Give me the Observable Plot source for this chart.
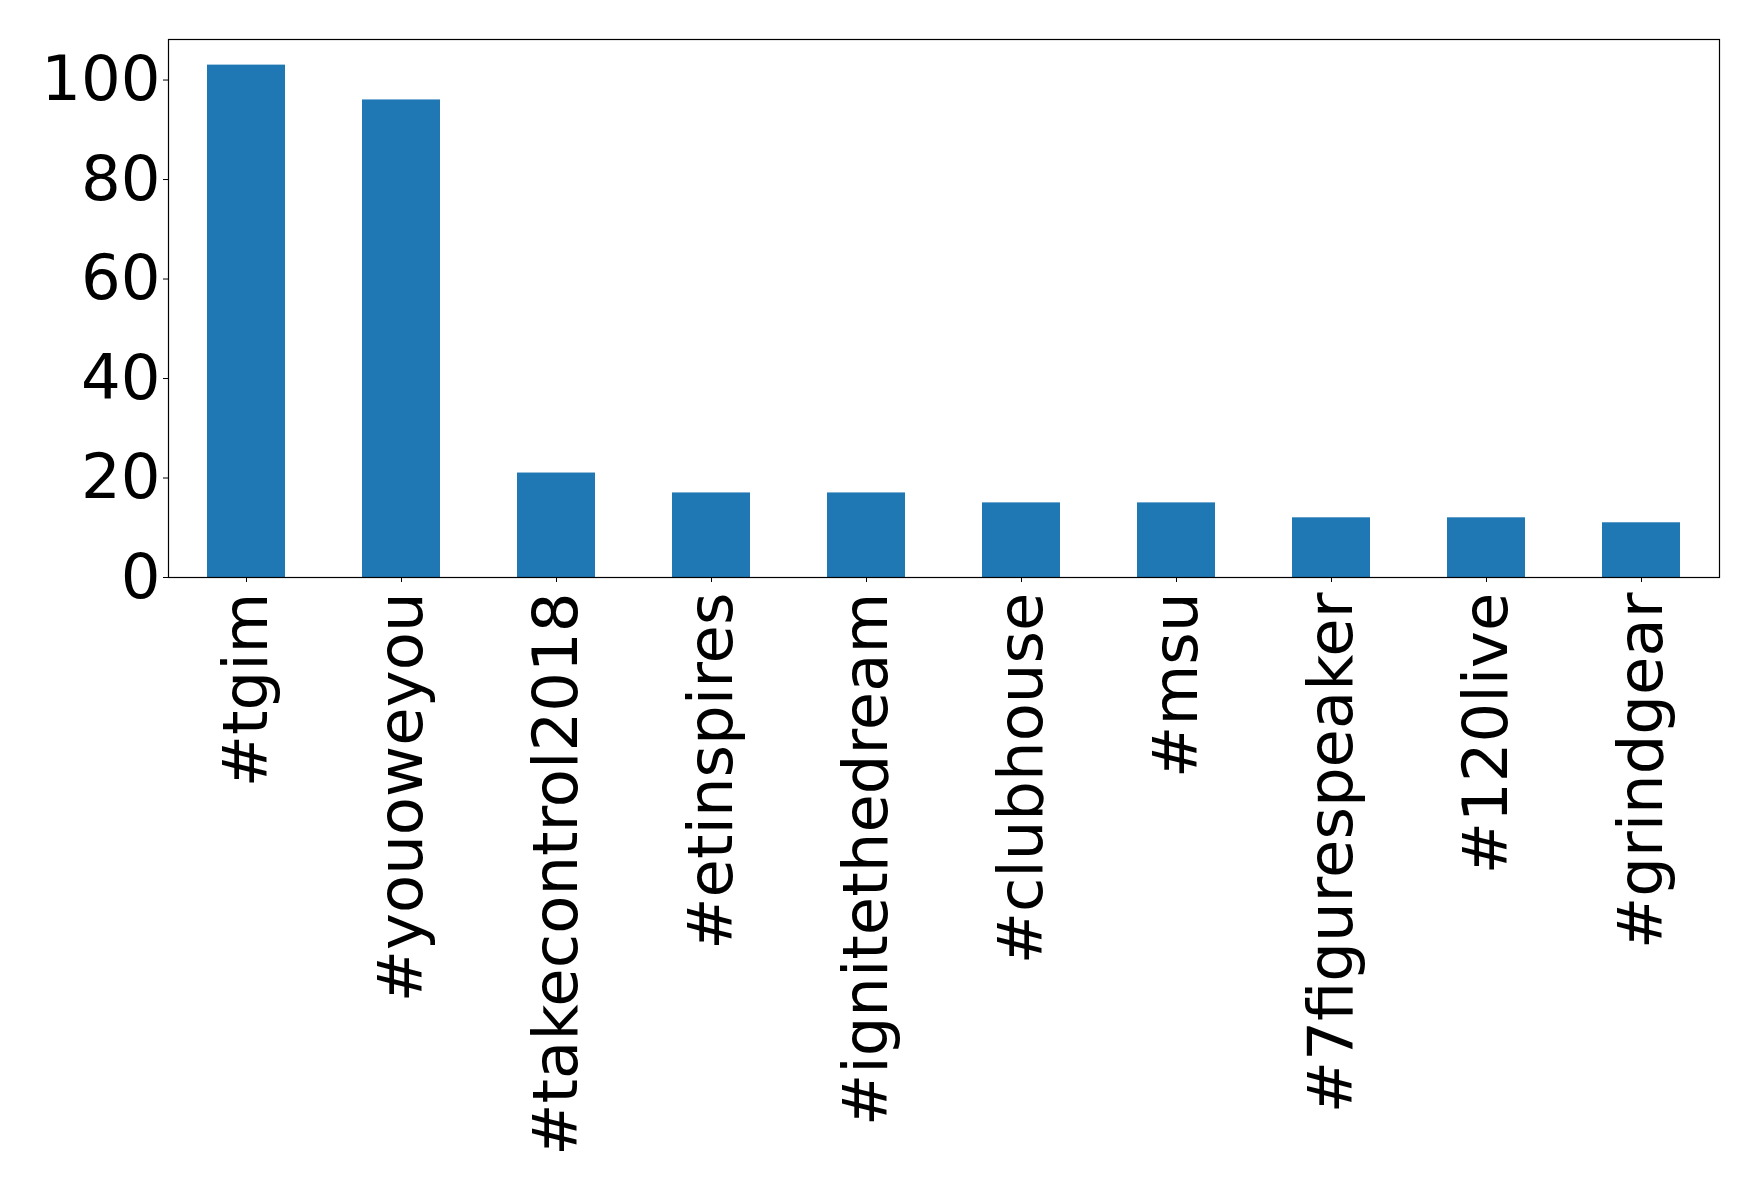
<!DOCTYPE html>
<html>
<head>
<meta charset="utf-8">
<script src="https://cdn.jsdelivr.net/npm/d3@7"></script>
<script src="https://cdn.jsdelivr.net/npm/@observablehq/plot@0.6"></script>
<style>
  html, body { margin: 0; padding: 0; background: #fff; }
  #chart svg { display: block; }
</style>
</head>
<body>
<div id="chart"></div>
<script>
const hashtags = ["#tgim", "#youoweyou", "#takecontrol2018", "#etinspires", "#ignitethedream",
  "#clubhouse", "#msu", "#7figurespeaker", "#120live", "#grindgear"];
const counts = [103, 96, 21, 17, 17, 15, 15, 12, 12, 11];
const yTicks = [0, 20, 40, 60, 80, 100];

const data = hashtags.map((h, i) => ({tag: h, count: counts[i]}));
const yMax = d3.max(counts) * 1.05;

const chart = Plot.plot({
  width: 1758,
  height: 1191,
  marginLeft: 168,
  marginRight: 39,
  marginTop: 39,
  marginBottom: 614,
  style: {fontFamily: "DejaVu Sans", background: "#fff", color: "#000"},
  x: {domain: hashtags, paddingInner: 0.5, paddingOuter: 0.25, align: 0.5},
  y: {domain: [0, yMax]},
  marks: [
    Plot.barY(data, {x: "tag", y: "count", fill: "#1f77b4"}),
    Plot.axisY({ticks: yTicks, tickSize: 5, tickPadding: 3, fontSize: 62.5, label: null, tickFormat: d => String(d)}),
    Plot.axisX({tickRotate: -90, tickSize: 5, tickPadding: 10, fontSize: 62.5, label: null}),
    Plot.frame({stroke: "#000", strokeWidth: 1.2})
  ]
});
document.getElementById("chart").appendChild(chart);
</script>
</body>
</html>
